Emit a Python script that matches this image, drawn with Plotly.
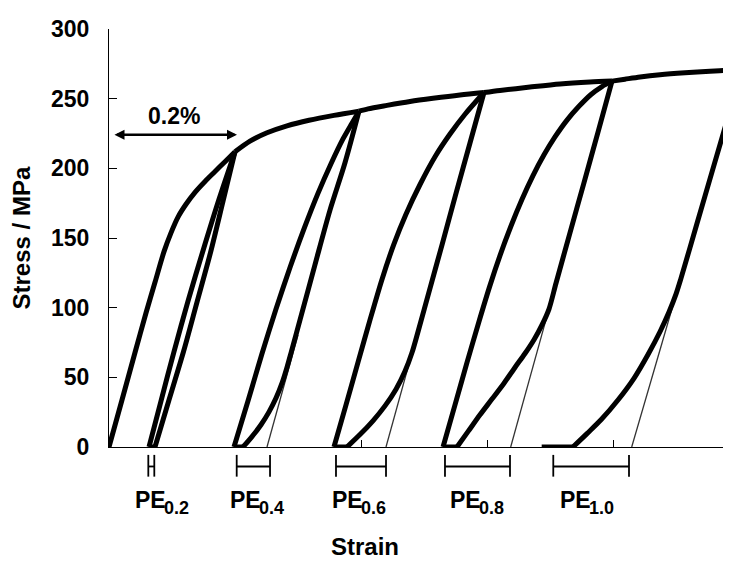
import plotly.graph_objects as go

FONT = "Liberation Sans, Arial, sans-serif"

# ---------------- data (strain in %, stress in MPa) ----------------
load0_strain = [0.0, 0.0206, 0.0413, 0.0587, 0.073, 0.0873, 0.0984, 0.1095, 0.1222, 0.1365, 0.1524, 0.1683, 0.1841, 0.2]
load0_stress = [0.0, 33.7, 67.8, 96.2, 118.2, 140.2, 153.7, 165.0, 174.2, 182.8, 190.6, 197.7, 204.8, 211.9]

unload1_strain = [0.2, 0.181, 0.1611, 0.1397, 0.1183, 0.0952, 0.073]
unload1_stress = [211.9, 176.4, 139.5, 104.0, 68.5, 33.7, 0.0]
reload1_strain = [0.0635, 0.0825, 0.1032, 0.1254, 0.1492, 0.1746, 0.2]
reload1_stress = [0.0, 33.0, 68.5, 104.7, 140.9, 177.8, 211.9]

env1_strain = [0.2, 0.2238, 0.2508, 0.2825, 0.3175, 0.3571, 0.3968]
env1_stress = [211.9, 219.5, 225.5, 230.5, 234.5, 238.0, 241.0]

unload2_strain = [0.3968, 0.3746, 0.3508, 0.327, 0.3032, 0.2897, 0.2825, 0.2746, 0.2651, 0.254, 0.2413, 0.227, 0.2127]
unload2_stress = [241.0, 204.0, 170.0, 130.9, 91.2, 68.8, 57.1, 45.8, 35.1, 25.2, 16.0, 7.5, 0.0]
reload2_strain = [0.1984, 0.2206, 0.2429, 0.2651, 0.2873, 0.3095, 0.3317, 0.3524, 0.3714, 0.3857, 0.3968]
reload2_stress = [0.0, 33.0, 67.1, 99.0, 128.8, 156.5, 182.0, 203.3, 221.1, 232.4, 241.0]

env2_strain = [0.3968, 0.4111, 0.4413, 0.4778, 0.5143, 0.5571, 0.5952]
env2_stress = [241.0, 242.7, 245.2, 248.0, 250.3, 252.7, 254.4]

unload3_strain = [0.5952, 0.573, 0.5508, 0.5286, 0.5095, 0.4905, 0.481, 0.4698, 0.4556, 0.4381, 0.419, 0.3984, 0.3778]
unload3_stress = [254.4, 218.2, 182.0, 145.1, 113.9, 82.7, 67.8, 54.3, 41.5, 29.5, 18.8, 8.9, 0.0]
reload3_strain = [0.3571, 0.3762, 0.3952, 0.4143, 0.4333, 0.4524, 0.4714, 0.4937, 0.5175, 0.5413, 0.5651, 0.5952]
reload3_stress = [0.0, 30.2, 60.7, 91.2, 120.3, 145.8, 167.1, 188.4, 208.3, 224.6, 238.8, 254.4]

env3_strain = [0.5952, 0.6206, 0.6683, 0.7159, 0.7635, 0.7984]
env3_stress = [254.4, 255.9, 258.3, 260.5, 261.9, 262.6]

unload4_strain = [0.7984, 0.7762, 0.754, 0.7317, 0.7095, 0.6984, 0.6873, 0.6746, 0.6603, 0.6444,
                  0.627, 0.6079, 0.5889, 0.5698, 0.5524]
unload4_stress = [262.6, 226.0, 189.8, 153.7, 117.5, 99.0, 87.6, 77.0, 67.1, 57.1,
                  45.8, 34.4, 23.1, 11.0, 0.0]
reload4_strain = [0.5302, 0.5492, 0.5683, 0.5873, 0.6048, 0.6206, 0.6381, 0.6556, 0.673, 0.6905,
                  0.7079, 0.727, 0.746, 0.7651, 0.7825, 0.7984]
reload4_stress = [0.0, 30.2, 60.7, 90.1, 116.0, 137.3, 158.6, 177.8, 194.8, 209.7,
                  222.5, 234.6, 244.5, 253.0, 258.7, 262.6]

env4_strain = [0.7984, 0.819, 0.8429, 0.8746, 0.9143, 0.954, 0.9873, 1.0044]
env4_stress = [262.6, 264.0, 265.6, 267.2, 268.6, 269.7, 270.4, 270.8]

unload5_strain = [1.0044, 0.9873, 0.9587, 0.9333, 0.9079, 0.9, 0.8889, 0.8746, 0.8556, 0.8333,
                  0.8079, 0.781, 0.7587, 0.7365]
unload5_stress = [270.8, 244.1, 199.8, 160.4, 121.0, 109.7, 96.9, 82.7, 66.4, 49.3,
                  33.7, 19.5, 9.6, 0.0]

# zero-stress recovery (end of unloading -> start of reloading)
flat_strain_from = [0.073, 0.2127, 0.3778, 0.5524, 0.7365]
flat_strain_to = [0.0635, 0.1984, 0.3571, 0.5302, 0.6868]

# thin elastic unloading reference lines
thin2_strain = [0.2508, 0.3]
thin2_stress = [0.0, 80.4]
thin3_strain = [0.4397, 0.5]
thin3_stress = [0.0, 98.6]
thin4_strain = [0.6376, 0.7063]
thin4_stress = [0.0, 112.0]
thin5_strain = [0.8297, 0.9111]
thin5_stress = [0.0, 126.3]

# PE brackets and labels
pe_names = ["0.2", "0.4", "0.6", "0.8", "1.0"]
pe_left = [0.0624, 0.2027, 0.3603, 0.5333, 0.7052]
pe_right = [0.0719, 0.2556, 0.4397, 0.6365, 0.8254]
pe_label_split = [0.0889, 0.2389, 0.4016, 0.5889, 0.7635]

yticks = [0, 50, 100, 150, 200, 250, 300]
x_ticks = [0.0, 0.2, 0.4, 0.6, 0.8]

# ---------------- figure ----------------
fig = go.Figure()

thin = [(thin2_strain, thin2_stress), (thin3_strain, thin3_stress),
        (thin4_strain, thin4_stress), (thin5_strain, thin5_stress)]
for xs, ys in thin:
    fig.add_trace(go.Scatter(x=xs, y=ys, mode="lines",
                             line=dict(color="#333333", width=1.3),
                             hoverinfo="skip", showlegend=False))

thick = [(load0_strain, load0_stress), (unload1_strain, unload1_stress), (reload1_strain, reload1_stress),
         (env1_strain, env1_stress), (unload2_strain, unload2_stress), (reload2_strain, reload2_stress),
         (env2_strain, env2_stress), (unload3_strain, unload3_stress), (reload3_strain, reload3_stress),
         (env3_strain, env3_stress), (unload4_strain, unload4_stress), (reload4_strain, reload4_stress),
         (env4_strain, env4_stress), (unload5_strain, unload5_stress)]
for xs, ys in thick:
    fig.add_trace(go.Scatter(x=xs, y=ys, mode="lines",
                             line=dict(color="black", width=5, shape="spline", smoothing=0.8),
                             hoverinfo="skip", showlegend=False))

for a, b in zip(flat_strain_from, flat_strain_to):
    fig.add_trace(go.Scatter(x=[a, b], y=[0, 0], mode="lines",
                             line=dict(color="black", width=5),
                             hoverinfo="skip", showlegend=False))

shapes = []
h_y, v_lo, v_hi = -0.0466, -0.0709, -0.0189
for l, r in zip(pe_left, pe_right):
    shapes.append(dict(type="line", xref="x", yref="paper", x0=l, x1=r, y0=h_y, y1=h_y,
                       line=dict(color="black", width=1.8)))
    for xv in (l, r):
        shapes.append(dict(type="line", xref="x", yref="paper", x0=xv, x1=xv, y0=v_lo, y1=v_hi,
                           line=dict(color="black", width=1.8)))

annotations = []
for name, xs in zip(pe_names, pe_label_split):
    annotations.append(dict(x=xs, y=-0.1277, xref="x", yref="paper", showarrow=False,
                            text="PE", xanchor="right", yanchor="middle", borderpad=0, xshift=2,
                            font=dict(family=FONT, size=23, color="black", weight="bold")))
    annotations.append(dict(x=xs, y=-0.1466, xref="x", yref="paper", showarrow=False,
                            text=name, xanchor="left", yanchor="middle", borderpad=0, xshift=-2,
                            font=dict(family=FONT, size=18, color="black", weight="bold")))

# 0.2% double arrow
annotations.append(dict(x=0.2032, y=224.1, ax=0.0063, ay=224.1, xref="x", yref="y",
                        axref="x", ayref="y", text="", showarrow=True,
                        arrowhead=2, startarrowhead=2, arrowside="end+start",
                        arrowsize=0.8, startarrowsize=0.8, arrowwidth=2.5, arrowcolor="black",
                        standoff=0, startstandoff=0))
annotations.append(dict(x=0.1032, y=237.6, xref="x", yref="y", showarrow=False, text="0.2%",
                        xanchor="center", yanchor="middle",
                        font=dict(family=FONT, size=23, color="black", weight="bold")))

annotations.append(dict(x=0.4116, y=-0.2388, xref="paper", yref="paper", showarrow=False,
                        text="Strain", xanchor="center", yanchor="middle",
                        font=dict(family=FONT, size=24, color="black", weight="bold")))
annotations.append(dict(x=-0.1399, y=0.5012, xref="paper", yref="paper", showarrow=False,
                        text="Stress / MPa", textangle=-90, xanchor="center", yanchor="middle",
                        font=dict(family=FONT, size=24, color="black", weight="bold")))

# The page is shown with the browser's default 8px body offset; margins compensate for it.
fig.update_layout(
    width=731, height=561,
    margin=dict(l=101, r=8, t=16, b=122),
    paper_bgcolor="white", plot_bgcolor="white",
    shapes=shapes, annotations=annotations,
    xaxis=dict(range=[0, 0.9873], showline=True, linecolor="black", linewidth=1,
               ticks="inside", tickvals=x_ticks, ticklen=7, tickcolor="black", tickwidth=1,
               showticklabels=False, showgrid=False, zeroline=False),
    yaxis=dict(range=[0, 300], showline=True, linecolor="black", linewidth=1,
               ticks="inside", tickvals=yticks, ticklen=8, tickcolor="black", tickwidth=1,
               tickfont=dict(family=FONT, size=23, color="black", weight="bold"),
               ticklabelstandoff=14, showgrid=False, zeroline=False),
)

fig.write_html("out.html")
